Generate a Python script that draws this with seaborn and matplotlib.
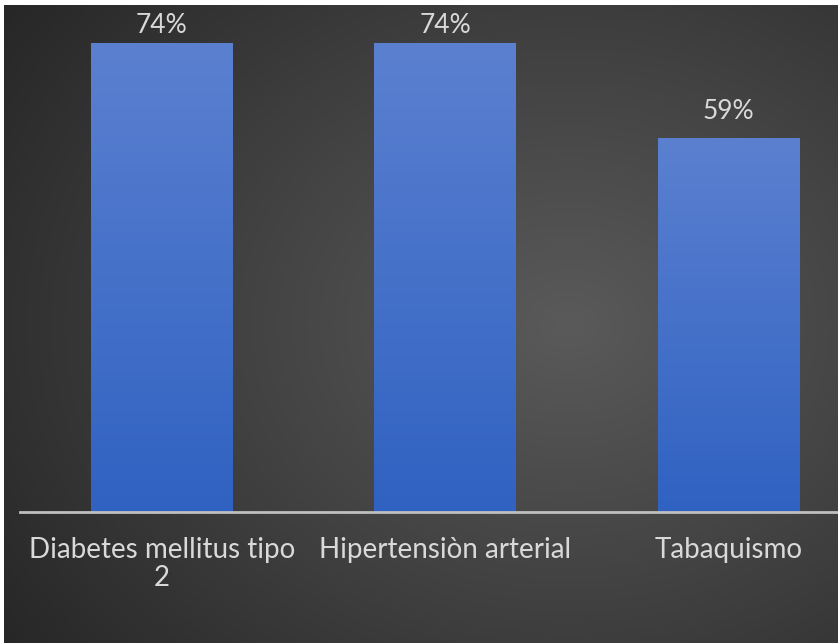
import numpy as np
import pandas as pd
import matplotlib
matplotlib.use("Agg")
import matplotlib.pyplot as plt
import seaborn as sns
from matplotlib.colors import LinearSegmentedColormap

categories = ["Diabetes mellitus tipo\n2", "Hipertensiòn arterial", "Tabaquismo"]
values = [74, 74, 59]
labels = ["74%", "74%", "59%"]

df = pd.DataFrame({"cat": categories, "val": values})

sns.set_theme(style="white")
plt.rcParams["font.family"] = ["Lato", "DejaVu Sans"]

W, H = 838, 643
fig = plt.figure(figsize=(W / 100, H / 100), dpi=100, facecolor="white")

# background radial gradient
bg = fig.add_axes([4 / W, 0, (W - 4) / W, (H - 5) / H])
bg.set_axis_off()
yy, xx = np.mgrid[0:300, 0:400]
cx, cy = 270, 150
r = np.sqrt(((xx - cx) / 330.0) ** 2 + ((yy - cy) / 260.0) ** 2)
r = np.clip(r, 0, 1)
bgcmap = LinearSegmentedColormap.from_list("bg", ["#5a5a5a", "#414141", "#272727"])
bg.imshow(r, cmap=bgcmap, aspect="auto", extent=(0, 1, 0, 1), origin="upper")
bg.set_xlim(0, 1)
bg.set_ylim(0, 1)

ax = fig.add_axes([20 / W, (H - 512) / H, (W - 20) / W, 507 / H])
ax.patch.set_alpha(0)
sns.barplot(data=df, x="cat", y="val", ax=ax, color="#4472c4", width=0.5,
            saturation=1, edgecolor="none", linewidth=0)
ax.set_xlim(-0.5, -0.5 + (W - 20) / 283.5)
ax.set_ylim(0, 80)

bar_cmap = LinearSegmentedColormap.from_list("bar", ["#5b80d0", "#3062c2"])
grad = np.linspace(0, 1, 256).reshape(-1, 1)
for p, lab in zip(ax.patches, labels):
    x0, w, h = p.get_x(), p.get_width(), p.get_height()
    im = ax.imshow(grad, cmap=bar_cmap, aspect="auto",
                   extent=(x0, x0 + w, 0, h), origin="upper", zorder=p.get_zorder() + 0.1)
    im.set_clip_path(p)
    ax.text(x0 + w / 2, min(h + 4.26, 76.8), lab, ha="center", va="center",
            color="#d9d9d9", fontsize=19)
ax.set_xlim(-0.5, -0.5 + (W - 20) / 283.5)
ax.set_ylim(0, 80)

for s in ["top", "right", "left"]:
    ax.spines[s].set_visible(False)
ax.spines["bottom"].set_color("#bfbfbf")
ax.spines["bottom"].set_linewidth(2)
ax.set_yticks([])
ax.set_xlabel("")
ax.set_ylabel("")
ax.tick_params(axis="x", length=0, pad=18, labelsize=20, labelcolor="#d9d9d9")
for t in ax.get_xticklabels():
    t.set_linespacing(1.1)

fig.savefig("out.png", dpi=100, facecolor="white")
